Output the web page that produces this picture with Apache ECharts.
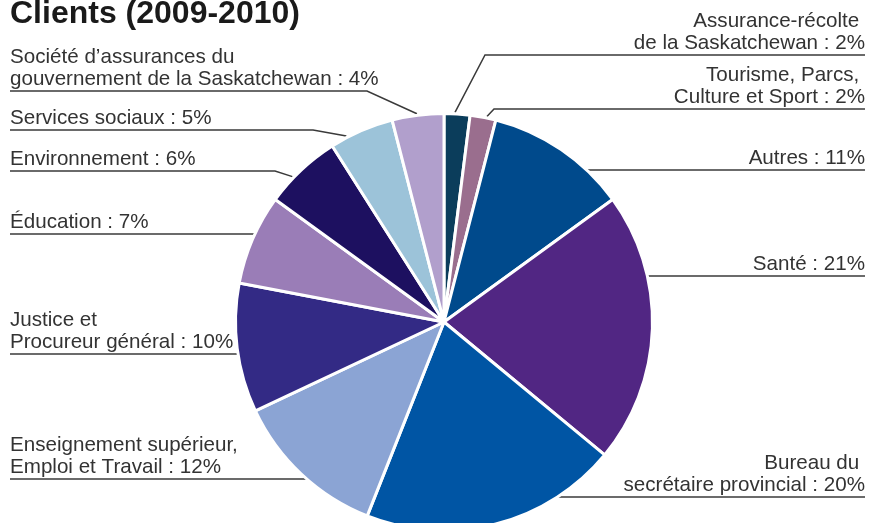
<!DOCTYPE html>
<html>
<head>
<meta charset="utf-8">
<script src="https://cdn.jsdelivr.net/npm/echarts@6/dist/echarts.min.js"></script>
<style>
  html, body { margin: 0; padding: 0; background: #fff; }
  #clients-pie { width: 869px; height: 523px; }
</style>
</head>
<body>
<div id="clients-pie"></div>
<script>
// données
const titleText = "Clients (2009-2010)";
const clientNames = [
  "Assurance-récolte \nde la Saskatchewan",
  "Tourisme, Parcs, \nCulture et Sport",
  "Autres",
  "Santé",
  "Bureau du \nsecrétaire provincial",
  "Enseignement supérieur,\nEmploi et Travail",
  "Justice et\nProcureur général",
  "Éducation",
  "Environnement",
  "Services sociaux",
  "Société d’assurances du\ngouvernement de la Saskatchewan"
];
const clientShares = [2, 2, 11, 21, 20, 12, 10, 7, 6, 5, 4];

// couleurs des secteurs
const sliceColors = [
  "#0b3d5b", "#9a6e8e", "#004a8c", "#512683", "#0055a4", "#8ba4d4",
  "#332a85", "#9a7db7", "#1d1060", "#9cc3d9", "#b19fcc"
];

// position des filets sous les étiquettes (y du filet, coude et angle pour les obliques)
const labelRules = [
  { side: "right", y: 55, elbow: 485, angle: 3 },
  { side: "right", y: 109, elbow: 494, angle: 11.8 },
  { side: "right", y: 170 },
  { side: "right", y: 276 },
  { side: "right", y: 497 },
  { side: "left", y: 479 },
  { side: "left", y: 354 },
  { side: "left", y: 234 },
  { side: "left", y: 171, elbow: 275, angle: -46.2 },
  { side: "left", y: 130, elbow: 313, angle: -27.7 },
  { side: "left", y: 91, elbow: 367, angle: -7.4 }
];

const CX = 444, CY = 322, R = 207;

function edgePoint(deg, r) {
  const a = deg * Math.PI / 180;
  return [CX + r * Math.sin(a), CY - r * Math.cos(a)];
}

const chart = echarts.init(document.getElementById("clients-pie"));
chart.setOption({
  animation: false,
  title: {
    text: titleText,
    left: 10,
    top: -2,
    padding: 0,
    textStyle: {
      fontFamily: "Liberation Sans",
      fontWeight: "bold",
      fontSize: 32,
      color: "#1a1a1a"
    }
  },
  series: [
    {
      type: "pie",
      center: [CX, CY],
      radius: R + 1.5,
      startAngle: 90,
      clockwise: true,
      avoidLabelOverlap: false,
      emphasis: { disabled: true },
      itemStyle: {
        borderColor: "#fff",
        borderWidth: 3
      },
      label: {
        show: true,
        formatter: "{b} : {c}%",
        fontFamily: "Liberation Sans",
        fontSize: 20.6,
        lineHeight: 22,
        color: "#333"
      },
      labelLine: {
        show: true,
        length: 10,
        length2: 10,
        lineStyle: { color: "#3a3a3a", width: 1.5 }
      },
      labelLayout: function (p) {
        const rule = labelRules[p.dataIndex];
        const right = rule.side === "right";
        const endX = right ? 865 : 10;
        let anchor, elbow;
        if (rule.elbow != null) {
          anchor = edgePoint(rule.angle, R + 3);
          elbow = [rule.elbow, rule.y];
        } else {
          const dx = Math.sqrt(R * R - (rule.y - CY) * (rule.y - CY));
          anchor = [right ? CX + dx : CX - dx, rule.y];
          elbow = anchor.slice();
        }
        return {
          x: endX,
          y: rule.y - 1,
          align: right ? "right" : "left",
          verticalAlign: "bottom",
          labelLinePoints: [anchor, elbow, [endX, rule.y]]
        };
      },
      data: clientNames.map(function (name, i) {
        return { name: name, value: clientShares[i], itemStyle: { color: sliceColors[i] } };
      })
    }
  ]
});
</script>
</body>
</html>
